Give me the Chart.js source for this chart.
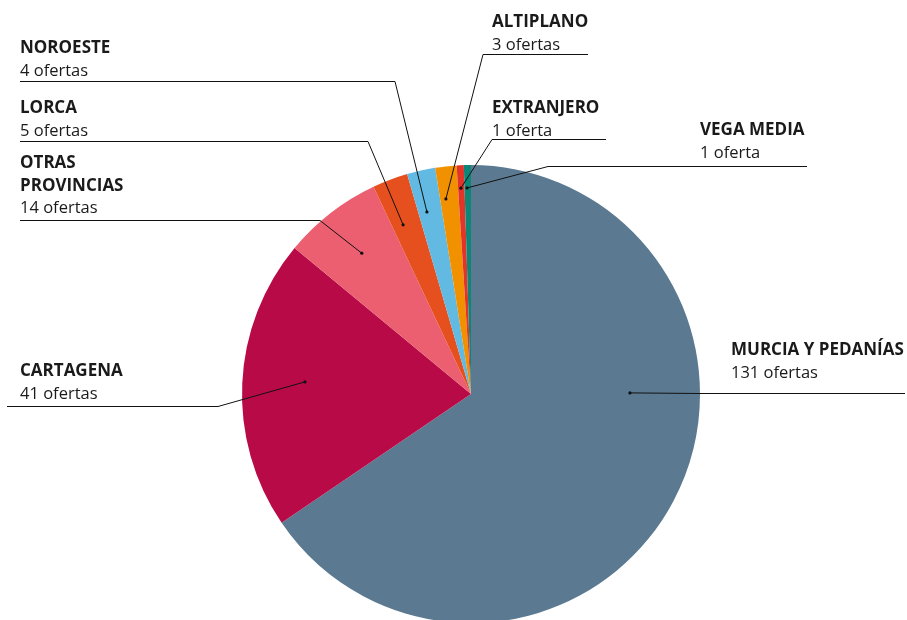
<!DOCTYPE html>
<html>
<head>
<meta charset="utf-8">
<script src="https://cdn.jsdelivr.net/npm/chart.js@4"></script>
<style>
  html, body { margin: 0; padding: 0; background: #fff; overflow: hidden; }
  #ofertasChart { display: block; }
</style>
</head>
<body>
<canvas id="ofertasChart" width="907" height="630"></canvas>
<script>
// Ofertas por zona
const regions = ['MURCIA Y PEDANÍAS', 'CARTAGENA', 'OTRAS PROVINCIAS', 'LORCA', 'NOROESTE', 'ALTIPLANO', 'EXTRANJERO', 'VEGA MEDIA'];
const offers = [131, 41, 14, 5, 4, 3, 1, 1];
const sliceColors = ['#5b7a91', '#b90a48', '#eb5f70', '#e6501e', '#62bae2', '#f29100', '#e3342a', '#0e8677'];

// Callout layout: where the dot sits inside the slice (t = share of the arc, r = share of the radius),
// the elbow of the leader line, where the line ends and where the text goes
const callouts = [
  { t: 0.38, r: 0.694, elbow: [700, 393], endX: 905, textX: 731, textY: 355, lines: ['MURCIA Y PEDANÍAS'] },
  { t: 0.52, r: 0.727, elbow: [218, 406], endX: 7, textX: 20, textY: 376, lines: ['CARTAGENA'] },
  { t: 0.50, r: 0.778, elbow: [320, 220], endX: 20, textX: 20, textY: 168, lines: ['OTRAS', 'PROVINCIAS'] },
  { t: 0.37, r: 0.796, elbow: [368, 141], endX: 20, textX: 20, textY: 113, lines: ['LORCA'] },
  { t: 0.36, r: 0.818, elbow: [395, 81], endX: 20, textX: 20, textY: 53, lines: ['NOROESTE'] },
  { t: 0.31, r: 0.859, elbow: [483, 54], endX: 588, textX: 492, textY: 27, lines: ['ALTIPLANO'] },
  { t: 0.44, r: 0.90, elbow: [492, 139], endX: 606, textX: 492, textY: 113, lines: ['EXTRANJERO'] },
  { t: 0.39, r: 0.90, elbow: [548, 166], endX: 807, textX: 700, textY: 135, lines: ['VEGA MEDIA'] }
];

const LINE_GAP = 22.5;

const calloutPlugin = {
  id: 'callouts',
  afterDatasetsDraw(chart) {
    const ctx = chart.ctx;
    const arcs = chart.getDatasetMeta(0).data;
    ctx.save();
    arcs.forEach((arc, i) => {
      const c = callouts[i];
      const p = arc.getProps(['x', 'y', 'startAngle', 'endAngle', 'outerRadius'], true);
      const ang = p.startAngle + (p.endAngle - p.startAngle) * c.t;
      const dx = p.x + Math.cos(ang) * p.outerRadius * c.r;
      const dy = p.y + Math.sin(ang) * p.outerRadius * c.r;
      const ly = c.elbow[1] + 0.5;

      // leader line
      ctx.strokeStyle = '#111';
      ctx.lineWidth = 1;
      ctx.beginPath();
      ctx.moveTo(dx, dy);
      ctx.lineTo(c.elbow[0], ly);
      ctx.lineTo(c.endX, ly);
      ctx.stroke();

      ctx.fillStyle = '#111';
      ctx.beginPath();
      ctx.arc(dx, dy, 1.6, 0, Math.PI * 2);
      ctx.fill();

      // label text
      ctx.fillStyle = '#1a1a1a';
      ctx.textAlign = 'left';
      ctx.textBaseline = 'alphabetic';
      let y = c.textY;
      ctx.font = 'bold 17px "Open Sans"';
      c.lines.forEach(line => {
        ctx.fillText(line, c.textX, y);
        y += LINE_GAP;
      });
      const v = offers[i];
      ctx.font = '16.5px "Open Sans"';
      ctx.fillText(v + (v === 1 ? ' oferta' : ' ofertas'), c.textX, y);
    });
    ctx.restore();
  }
};

const ofertasCtx = document.getElementById('ofertasChart').getContext('2d');
const ofertasChart = new Chart(ofertasCtx, {
  type: 'pie',
  data: {
    labels: regions,
    datasets: [{
      data: offers,
      backgroundColor: sliceColors,
      borderWidth: 0
    }]
  },
  options: {
    responsive: false,
    animation: false,
    devicePixelRatio: 1,
    layout: {
      padding: { left: 242, right: 207, top: 165, bottom: 7 }
    },
    plugins: {
      legend: { display: false },
      tooltip: { enabled: false }
    }
  },
  plugins: [calloutPlugin]
});
</script>
</body>
</html>
